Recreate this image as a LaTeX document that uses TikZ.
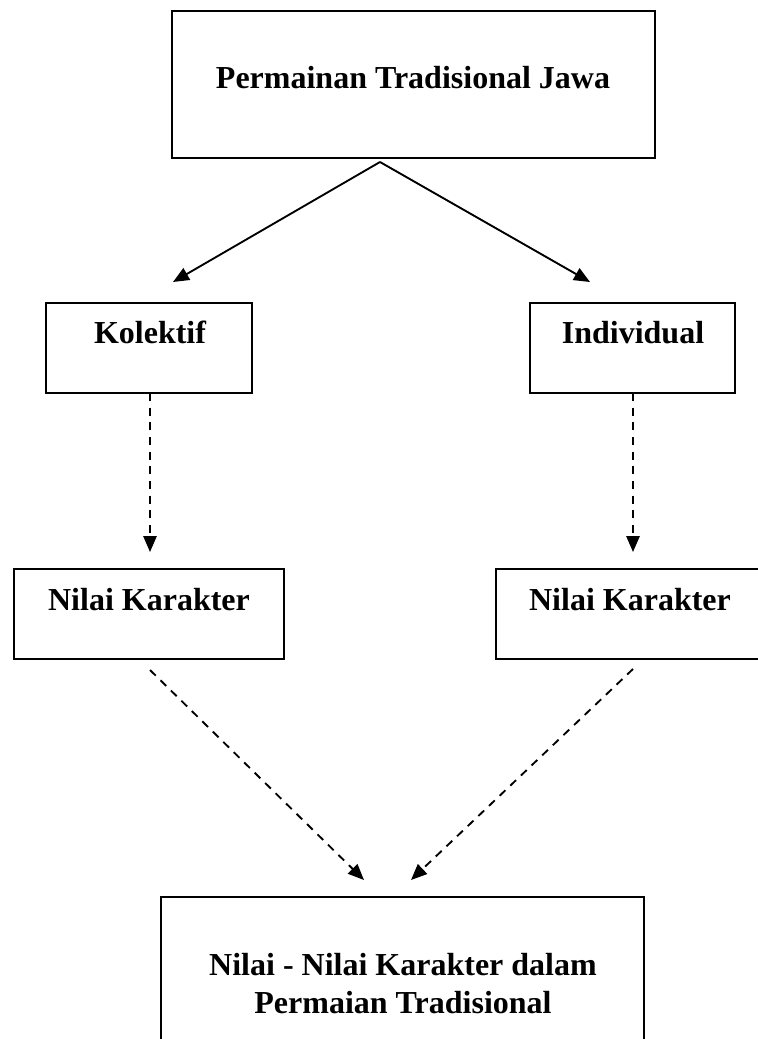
\documentclass[tikz,border=0pt]{standalone}
\usepackage{fontspec}
\setmainfont{Liberation Serif}
\usetikzlibrary{arrows.meta}
\begin{document}
\begin{tikzpicture}[x=0.75pt,y=-0.75pt,
  box/.style={draw,line width=1.4pt,rectangle,inner sep=0pt,outer sep=0pt},
  lbl/.style={anchor=base,inner sep=0pt,font=\bfseries\fontsize{24pt}{28.5pt}\selectfont,align=center},
  solidarrow/.style={line width=1.4pt,-{Triangle[length=12pt,width=10pt]}},
  dasharrow/.style={line width=1.4pt,dash pattern=on 6pt off 5pt,-{Triangle[length=12pt,width=10pt]}}]
\useasboundingbox (0,0) rectangle (757,1039);
% boxes
\node[box,minimum width=483*0.75pt,minimum height=147*0.75pt] (top) at (413.5,84.5) {};
\node[box,minimum width=206*0.75pt,minimum height=90*0.75pt] (kol) at (149,348) {};
\node[box,minimum width=205*0.75pt,minimum height=90*0.75pt] (ind) at (632.5,348) {};
\node[box,minimum width=270*0.75pt,minimum height=90*0.75pt] (nk1) at (149,614) {};
\node[box,minimum width=268*0.75pt,minimum height=90*0.75pt] (nk2) at (630,614) {};
\node[box,minimum width=483*0.75pt,minimum height=203*0.75pt] (bot) at (402.5,998.5) {};
% labels
\node[lbl] (ttop) at (413,88) {Permainan Tradisional Jawa};
\node[lbl] (tkol) at (150,343) {Kolektif};
\node[lbl] (tind) at (633,343) {Individual};
\node[lbl] (tnk1) at (149,610) {Nilai Karakter};
\node[lbl] (tnk2) at (630,610) {Nilai Karakter};
\node[lbl] (tbot) at (403,1013) {Nilai - Nilai Karakter dalam\\Permaian Tradisional};
% connector ends
\coordinate (apex) at (380,162);
\coordinate (tipkol) at (173,282);
\coordinate (tipind) at (590,282);
\coordinate (skol) at (150,393);
\coordinate (ekol) at (150,552);
\coordinate (sind) at (633,393);
\coordinate (eind) at (633,552);
\coordinate (snk1) at (150,670);
\coordinate (enk1) at (364,880);
\coordinate (snk2) at (633,669);
\coordinate (enk2) at (411,880);
% connectors
\draw[solidarrow] (apex) -- (tipkol);
\draw[solidarrow] (apex) -- (tipind);
\draw[dasharrow] (skol) -- (ekol);
\draw[dasharrow] (sind) -- (eind);
\draw[dasharrow] (snk1) -- (enk1);
\draw[dasharrow] (snk2) -- (enk2);
\end{tikzpicture}
\end{document}
